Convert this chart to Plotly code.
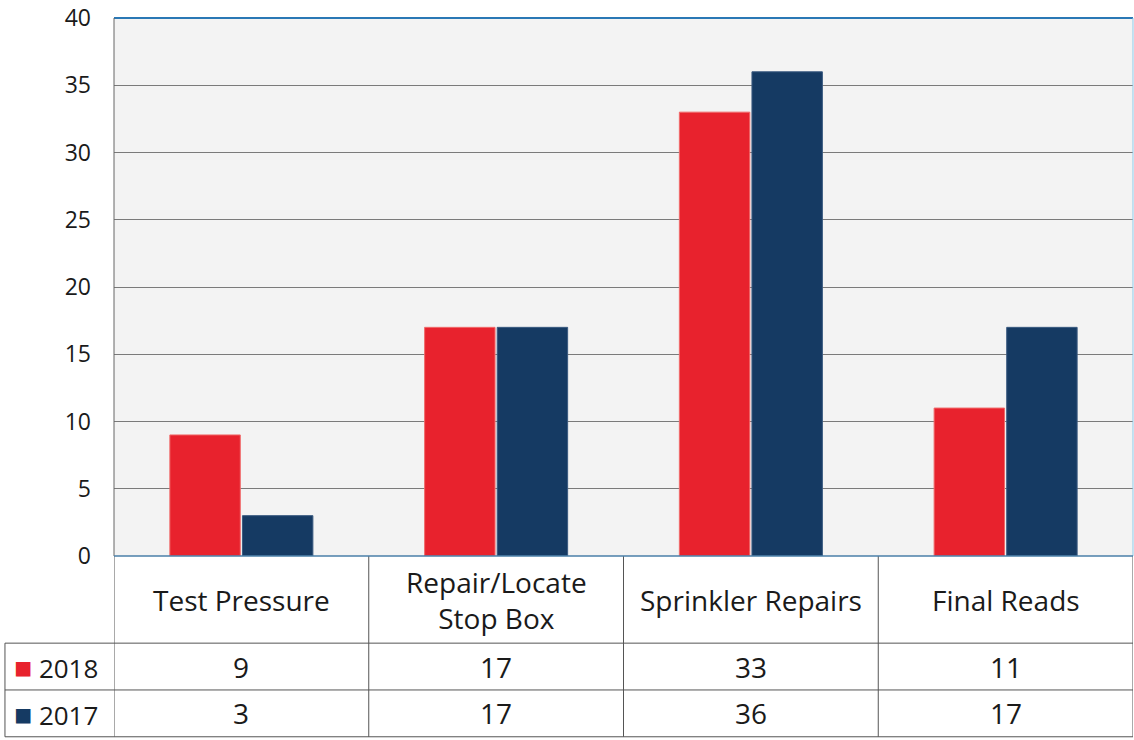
import plotly.graph_objects as go

CATEGORIES = ["Test Pressure", "Repair/Locate<br>Stop Box", "Sprinkler Repairs", "Final Reads"]
SERIES = ["2018", "2017"]
VALUES_2018 = [9, 17, 33, 11]
VALUES_2017 = [3, 17, 36, 17]
Y_TICKS = [0, 5, 10, 15, 20, 25, 30, 35, 40]

RED = "#e8222d"
NAVY = "#153a63"
FONT = "'Open Sans', 'Noto Sans', sans-serif"
TICK_SIZE = 23
CELL_SIZE = 28

# table row bounds in paper units (0 = bottom of plot area)
HEADER_BOTTOM = -0.162
ROW1_BOTTOM = -0.249
ROW2_BOTTOM = -0.336
LEGEND_LEFT = -0.107

fig = go.Figure()
fig.add_trace(go.Bar(x=list(range(4)), y=VALUES_2018, name="2018",
                     marker=dict(color=RED, line=dict(color="#f06a6a", width=1))))
fig.add_trace(go.Bar(x=list(range(4)), y=VALUES_2017, name="2017",
                     marker=dict(color=NAVY, line=dict(color="#3a5a80", width=1))))

shapes = []
line = dict(color="#555555", width=1)
# horizontal table lines
for yb in [HEADER_BOTTOM, ROW1_BOTTOM, ROW2_BOTTOM]:
    shapes.append(dict(type="line", xref="paper", yref="paper", x0=LEGEND_LEFT, x1=1,
                       y0=yb, y1=yb, line=line))
# vertical column dividers
for xv in [-0.5, 0.5, 1.5, 2.5, 3.5]:
    shapes.append(dict(type="line", xref="x", yref="paper", x0=xv, x1=xv,
                       y0=0, y1=ROW2_BOTTOM, line=line))
shapes.append(dict(type="line", xref="paper", yref="paper", x0=LEGEND_LEFT, x1=LEGEND_LEFT,
                   y0=HEADER_BOTTOM, y1=ROW2_BOTTOM, line=line))
# plot frame
shapes.append(dict(type="line", xref="paper", yref="paper", x0=0, x1=1, y0=1, y1=1,
                   line=dict(color="#2a78b5", width=2)))
shapes.append(dict(type="line", xref="paper", yref="paper", x0=1, x1=1, y0=0, y1=1,
                   line=dict(color="#8cc8e8", width=1)))
shapes.append(dict(type="line", xref="paper", yref="paper", x0=0, x1=0, y0=0, y1=1,
                   line=dict(color="#666666", width=1)))
shapes.append(dict(type="line", xref="paper", yref="paper", x0=0, x1=1, y0=0, y1=0,
                   line=dict(color="#4a7fa8", width=1.5)))

annotations = []
font = dict(family=FONT, size=CELL_SIZE, color="#1a1a1a")
cell = dict(xref="x", yref="paper", showarrow=False, font=font,
            xanchor="center", yanchor="middle", align="center")
for i, cat in enumerate(CATEGORIES):
    annotations.append(dict(cell, x=i, y=HEADER_BOTTOM / 2, text=cat))
    annotations.append(dict(cell, x=i, y=(HEADER_BOTTOM + ROW1_BOTTOM) / 2,
                            text=str(VALUES_2018[i])))
    annotations.append(dict(cell, x=i, y=(ROW1_BOTTOM + ROW2_BOTTOM) / 2,
                            text=str(VALUES_2017[i])))
for name, color, yc in [(SERIES[0], RED, (HEADER_BOTTOM + ROW1_BOTTOM) / 2),
                        (SERIES[1], NAVY, (ROW1_BOTTOM + ROW2_BOTTOM) / 2)]:
    annotations.append(dict(x=LEGEND_LEFT + 0.007, y=yc, xref="paper", yref="paper",
                            xanchor="left", yanchor="middle",
                            text=f'<span style="color:{color};font-size:30px">■</span> {name}',
                            showarrow=False, font=dict(family=FONT, size=26, color="#1a1a1a")))

fig.update_layout(
    width=1134, height=740,
    barmode="group", bargap=0.43, bargroupgap=0.03,
    showlegend=False,
    paper_bgcolor="white",
    plot_bgcolor="#f3f3f3",
    margin=dict(l=114, r=1, t=18, b=184),
    font=dict(family=FONT, size=TICK_SIZE, color="#1a1a1a"),
    xaxis=dict(range=[-0.5, 3.5], showticklabels=False, showgrid=False, zeroline=False,
               fixedrange=True),
    yaxis=dict(range=[0, 40], tickvals=Y_TICKS, showgrid=True, gridcolor="#7a7a7a",
               gridwidth=1, zeroline=False, ticklabelstandoff=22,
               tickfont=dict(family=FONT, size=TICK_SIZE, color="#1a1a1a")),
    shapes=shapes,
    annotations=annotations,
)

fig.write_html("out.html", config={"displayModeBar": False},
               post_script="document.body.style.margin='0';")
